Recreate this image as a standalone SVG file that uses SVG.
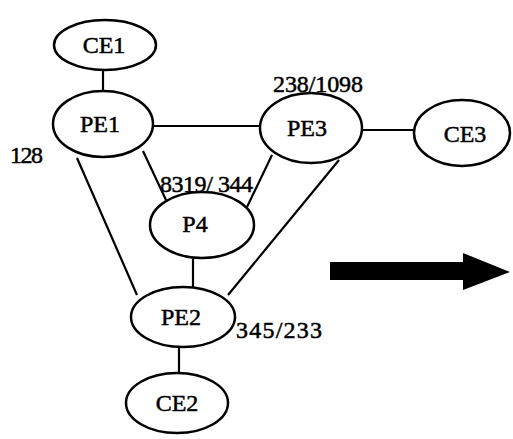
<svg xmlns="http://www.w3.org/2000/svg" width="513" height="439" viewBox="0 0 513 439">
  <style>
    .node ellipse { fill: #fff; stroke: #000; stroke-width: 2.5; }
    .node text, .lbl { font-family: "Liberation Serif", "Times New Roman", serif; font-size: 24px; fill: #000; stroke: #000; stroke-width: 0.5; }
    .node text { text-anchor: middle; }
    #links line { stroke: #000; stroke-width: 2.2; }
  </style>
  <rect width="513" height="439" fill="#fff"/>
  <g id="links">
    <line x1="103" y1="69" x2="103" y2="92"/>
    <line x1="152" y1="126" x2="261" y2="126"/>
    <line x1="361" y1="130" x2="415" y2="130"/>
    <line x1="77" y1="158" x2="137" y2="295"/>
    <line x1="143" y1="151" x2="166" y2="200"/>
    <line x1="272" y1="155" x2="247" y2="207"/>
    <line x1="339" y1="160" x2="228" y2="295"/>
    <line x1="193" y1="258" x2="193" y2="289"/>
    <line x1="179" y1="346" x2="179" y2="374"/>
  </g>
  <g id="CE1" class="node"><ellipse cx="105" cy="45" rx="51" ry="25"/><text x="104" y="53">CE1</text></g>
  <g id="PE1" class="node"><ellipse cx="103" cy="124" rx="50" ry="33"/><text x="100" y="132">PE1</text></g>
  <g id="PE3" class="node"><ellipse cx="311" cy="128" rx="51" ry="35"/><text x="307" y="136">PE3</text></g>
  <g id="CE3" class="node"><ellipse cx="462" cy="133" rx="48" ry="33"/><text x="465" y="142">CE3</text></g>
  <g id="P4" class="node"><ellipse cx="202" cy="225" rx="52" ry="33"/><text x="195" y="232">P4</text></g>
  <g id="PE2" class="node"><ellipse cx="183" cy="317" rx="52" ry="30"/><text x="181" y="325">PE2</text></g>
  <g id="CE2" class="node"><ellipse cx="177" cy="403" rx="51" ry="30"/><text x="177" y="411">CE2</text></g>
  <text class="lbl" x="10" y="163" textLength="33">128</text>
  <text class="lbl" x="273" y="92" textLength="90">238/1098</text>
  <text class="lbl" x="160" y="192" textLength="93">8319/ 344</text>
  <text class="lbl" x="236" y="338" textLength="86">345/233</text>
  <polygon points="330,262 463,262 463,253 510,272 463,290 463,280 330,280" fill="#000"/>
</svg>
